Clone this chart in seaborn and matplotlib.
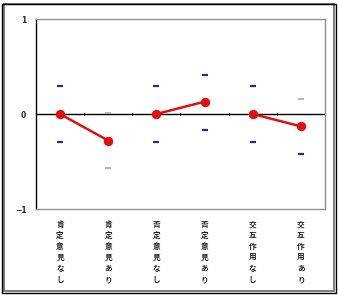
import matplotlib
matplotlib.use("Agg")
import matplotlib.pyplot as plt
import seaborn as sns
import pandas as pd
from matplotlib.patches import Rectangle

categories = ["肯定意見なし", "肯定意見あり", "否定意見なし", "否定意見あり", "交互作用なし", "交互作用あり"]
groups = ["肯定", "肯定", "否定", "否定", "交互", "交互"]
values = [0.0, -0.28, 0.0, 0.13, 0.0, -0.13]
upper = [0.29, 0.01, 0.29, 0.41, 0.29, 0.16]
lower = [-0.29, -0.57, -0.29, -0.17, -0.29, -0.42]
upper_faint = [False, True, False, False, False, True]
lower_faint = [False, True, False, False, False, False]
yticks = [-1, 0, 1]
ytick_labels = ["\u22121", "0", "1"]

sns.set_style("white")
plt.rcParams['font.family'] = ['Noto Sans CJK JP', 'DejaVu Sans']

df = pd.DataFrame({"pos": range(len(categories)), "cat": categories,
                   "group": groups, "value": values})
bars = pd.DataFrame({
    "pos": list(range(len(categories))) * 2,
    "y": upper + lower,
    "faint": upper_faint + lower_faint,
})

fig = plt.figure(figsize=(3.38, 2.95), dpi=100)
ax = fig.add_axes([0.1065, 0.2915, 0.855, 0.644])

# outer frame
fig.patches.append(Rectangle((0.012, 0.012), 0.976, 0.976, transform=fig.transFigure,
                             fill=False, edgecolor="#808080", linewidth=1.5))
fig.patches.append(Rectangle((0.006, 0.006), 0.988, 0.982, transform=fig.transFigure,
                             fill=False, edgecolor="black", linewidth=1.0))

ax.axhline(0, color="black", linewidth=1.0, zorder=1)
for b in [0.5, 1.5, 2.5, 3.5, 4.5]:
    ax.plot([b, b], [-0.015, 0.015], color="black", linewidth=0.8, zorder=1)

sns.scatterplot(data=bars[~bars.faint], x="pos", y="y", marker="_", s=16,
                linewidth=1.6, color="#2a2a90", ax=ax, zorder=2)
sns.scatterplot(data=bars[bars.faint], x="pos", y="y", marker="_", s=16,
                linewidth=1.2, color="#a8a8b0", ax=ax, zorder=2)

sns.lineplot(data=df, x="pos", y="value", units="group", estimator=None,
             color="#e01010", linewidth=1.8, marker="o", markersize=6,
             markeredgecolor="#e01010", ax=ax, zorder=3)

ax.set_xlim(-0.5, len(categories) - 0.5)
ax.set_ylim(-1, 1)
ax.set_yticks(yticks)
ax.set_yticklabels(ytick_labels, fontsize=5.5, fontweight="bold", family="DejaVu Sans")
ax.tick_params(axis="y", direction="in", length=2, pad=7)
ax.set_xticks(range(len(categories)))
ax.set_xticklabels(["\n".join(c) for c in categories], fontsize=5.5, fontweight="bold",
                   linespacing=1.28, va="top")
ax.tick_params(axis="x", length=0, pad=8)
ax.set_xlabel("")
ax.set_ylabel("")
for s in ["top", "right", "bottom"]:
    ax.spines[s].set_color("#909090")
    ax.spines[s].set_linewidth(1.0)
ax.spines["left"].set_color("black")
ax.spines["left"].set_linewidth(1.0)

fig.savefig("out.png", dpi=100)
